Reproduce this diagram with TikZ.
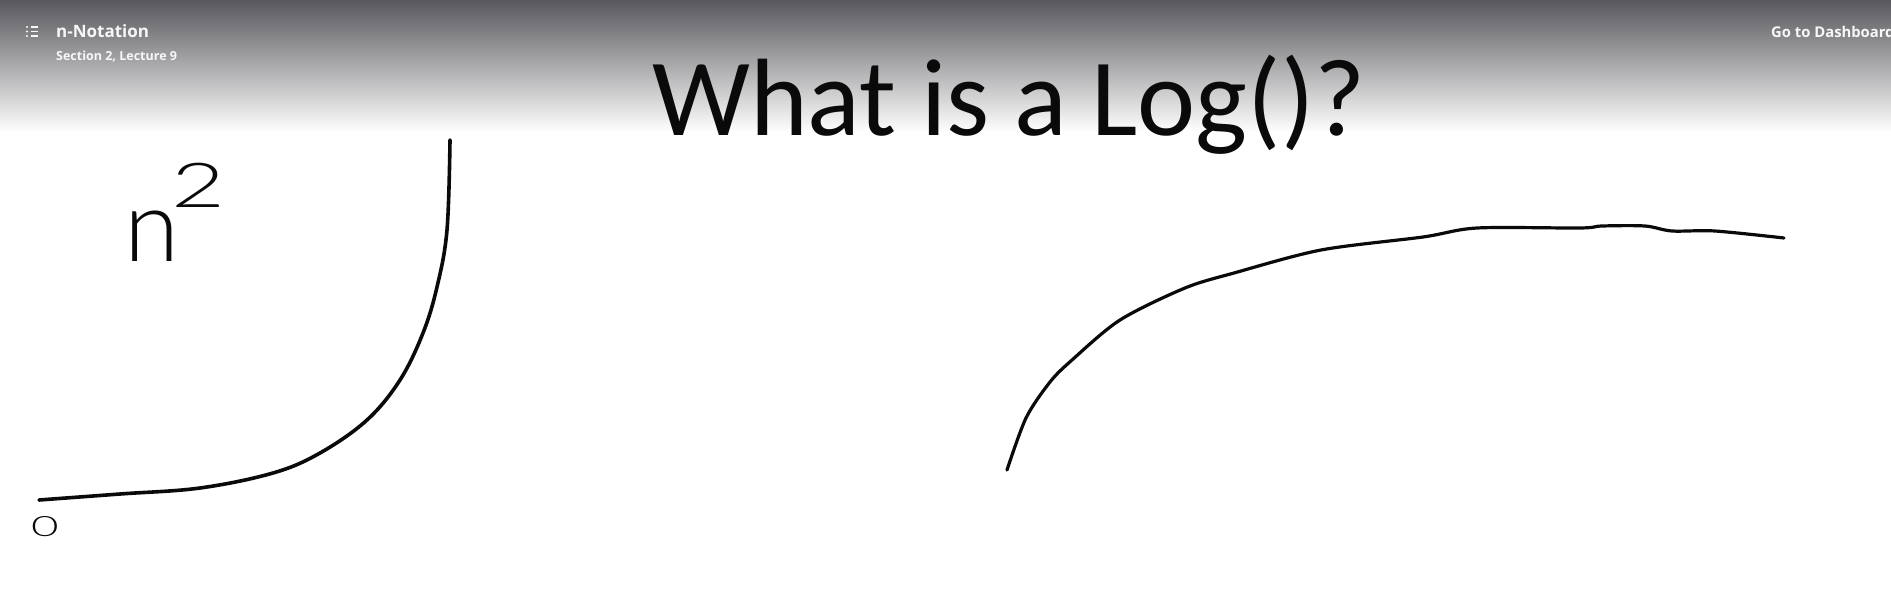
\documentclass[tikz,border=0pt]{standalone}
\usepackage{fontspec}
\usepackage{xcolor}
\usepackage{tikz}
\usetikzlibrary{positioning}
\setmainfont{Carlito}
\newfontfamily\uifont{Open Sans}
\newfontfamily\handfont{Lato Light}
\definecolor{bardark}{HTML}{58585D}
\definecolor{uiwhite}{HTML}{F7F7F7}
\definecolor{ink}{HTML}{0A0A0A}

\begin{document}
\begin{tikzpicture}[x=1pt,y=-1pt,
  pen/.style={draw=ink,line width=3.6pt,line cap=round,line join=round},
  ui/.style={inner sep=0pt,text=uiwhite,anchor=base west},
  hand/.style={inner sep=0pt,text=ink,font=\handfont}
]
\useasboundingbox (0,0) rectangle (1891,607);
\fill[white] (0,0) rectangle (1891,607);
\shade[top color=bardark,bottom color=white] (0,0) rectangle (1891,132);
% menu icon and header
\foreach \y in {27,31.5,36} {\fill[uiwhite] (27,\y) circle (1.2); \draw[uiwhite,line width=1.3pt] (30.5,\y) -- (38,\y);}
\node[ui,font=\uifont\bfseries\fontsize{17pt}{17pt}\selectfont] (course) at (56,38) {n-Notation};
\node[ui,font=\uifont\bfseries\fontsize{12.5pt}{12.5pt}\selectfont] (lecture) at (56,61) {Section 2, Lecture 9};
\node[ui,font=\uifont\bfseries\fontsize{14.8pt}{14.8pt}\selectfont] (dash) at (1771,38) {Go to Dashboard};
\node[anchor=base west,inner sep=0pt,text=ink,font=\fontsize{110pt}{110pt}\selectfont] (title) at (652,136) {What is a Log()?};
% n squared
\node[hand,anchor=base west,font=\handfont\fontsize{100pt}{100pt}\selectfont] (nsq) at (124,261) {n\kern-8pt\raisebox{54pt}{\fontsize{62pt}{62pt}\selectfont\scalebox{1.5}[1]{2}}};
\draw[pen] plot[smooth,tension=0.6] coordinates {(39,500) (120,494) (200,488) (273,473) (320,453) (367,420) (400,380) (423,333) (437,287) (447,230) (450,140)};
\node[hand,font=\handfont\fontsize{28pt}{28pt}\selectfont] (zero) at (45,527) {\scalebox{1.7}[1]{0}};
% log curve
\draw[pen,line width=3.2pt] plot[smooth,tension=0.5] coordinates {(1007,470) (1026,418) (1050,382) (1072,360) (1120,320) (1185,288) (1234,273) (1321,250) (1423,237) (1477,228) (1580,228) (1602,226) (1645,226) (1672,231) (1715,231) (1784,238)};
\end{tikzpicture}
\end{document}
